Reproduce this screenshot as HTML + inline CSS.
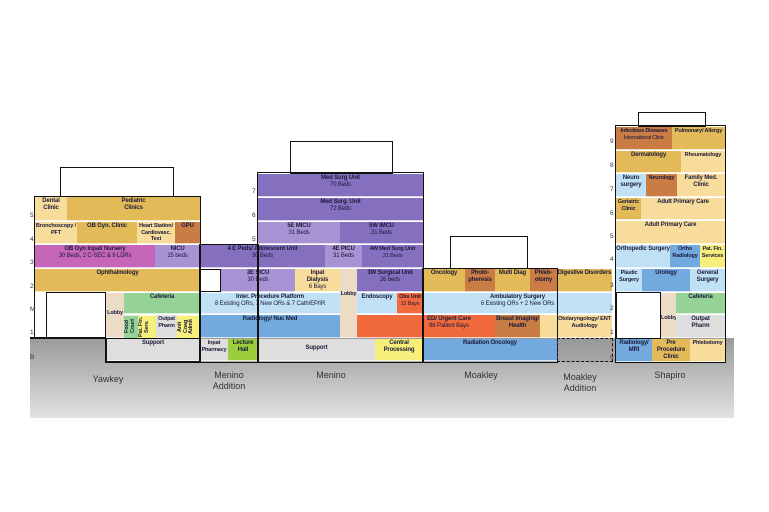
<!DOCTYPE html>
<html><head><meta charset="utf-8"><style>
body{margin:0;width:769px;height:512px;background:#fff;position:relative;overflow:hidden;font-family:"Liberation Sans",sans-serif}
.b{position:absolute;box-sizing:border-box;font-size:6px;line-height:7px;letter-spacing:-0.15px;text-align:center;color:#1a1a3a;font-weight:bold;padding-top:1px;overflow:hidden;border-bottom:1px solid rgba(255,255,255,.7)}
.b span{font-weight:normal;display:block}
.o{position:absolute;box-sizing:border-box;border:1.5px solid #111}
.n{position:absolute;font-size:6.5px;color:#333}
.l{position:absolute;font-size:9px;color:#333;text-align:center;width:80px;line-height:11px}
.go{background:#e2ba58}.ly{background:#f7dc9c}.br{background:#c97c44}.pk{background:#c566b8}
.pu{background:#8470bf}.lp{background:#a892d4}.lb{background:#bfe0f5}.bl{background:#72aadf}
.or{background:#f06a3c}.gr{background:#95d295}.lg{background:#dedede}.ye{background:#f6ef7c}
.be{background:#ecdcc6}.lh{background:#9ccd3c}
.v{writing-mode:vertical-rl;transform:rotate(180deg);padding:1px 0 0 0;font-size:5.5px;line-height:6px}
</style></head><body>
<div style="position:absolute;left:30px;top:338px;width:704px;height:80px;background:linear-gradient(#9a9a9a,#e2e2e2)"></div>

<div class="o" style="left:60px;top:167px;width:114px;height:31px;border-width:1px"></div>
<div class="o" style="left:290px;top:141px;width:103px;height:33px;border-width:1px"></div>
<div class="o" style="left:450px;top:236px;width:78px;height:33px;border-width:1px"></div>
<div class="o" style="left:638px;top:112px;width:68px;height:15px;border-width:1px"></div>

<!-- Yawkey -->
<div class="b ly" style="left:35px;top:197px;width:32px;height:24px">Dental Clinic</div>
<div class="b go" style="left:67px;top:197px;width:133px;height:24px">Pediatric<br>Clinics</div>
<div class="b ly" style="left:35px;top:222px;width:42px;height:22px;font-size:5.6px">Bronchoscopy / PFT</div>
<div class="b go" style="left:77px;top:222px;width:60px;height:22px">OB Gyn. Clinic</div>
<div class="b ly" style="left:137px;top:222px;width:38px;height:22px;font-size:5.5px;line-height:6.5px">Heart Station/ Cardiovasc. Test</div>
<div class="b br" style="left:175px;top:222px;width:25px;height:22px">GPU</div>
<div class="b pk" style="left:35px;top:245px;width:120px;height:23px">OB Gyn Inpat/ Nursery<span>30 Beds, 2 C-SEC &amp; 9 LDRs</span></div>
<div class="b lp" style="left:155px;top:245px;width:45px;height:23px">NICU<span>15 beds</span></div>
<div class="b go" style="left:35px;top:269px;width:165px;height:23px">Ophthalmology</div>
<div class="o" style="left:46px;top:292px;width:60px;height:47px;border-width:1px;background:#fff"></div>
<div class="b be" style="left:106px;top:293px;width:18px;height:45px;padding-top:17px;font-size:5.5px">Lobby</div>
<div class="b gr" style="left:124px;top:293px;width:76px;height:21px">Cafeteria</div>
<div class="b gr v" style="left:124px;top:315px;width:14px;height:23px">Food Court</div>
<div class="b ye v" style="left:138px;top:315px;width:18px;height:23px">Pat. Fin. Serv.</div>
<div class="b lg" style="left:156px;top:315px;width:21px;height:23px;font-size:5.5px">Outpat Pharm</div>
<div class="b ye v" style="left:177px;top:315px;width:11px;height:23px">Anti Coag</div>
<div class="b ye v" style="left:188px;top:315px;width:12px;height:23px">Admit</div>
<div class="b lg" style="left:106px;top:339px;width:94px;height:22px">Support</div>

<!-- Menino -->
<div class="b pu" style="left:258px;top:174px;width:165px;height:23px">Med Surg Unit<span>70 Beds</span></div>
<div class="b pu" style="left:258px;top:198px;width:165px;height:23px">Med Surg. Unit<span>72 Beds</span></div>
<div class="b lp" style="left:258px;top:222px;width:82px;height:22px">5E MICU<span>31 Beds</span></div>
<div class="b pu" style="left:340px;top:222px;width:83px;height:22px">5W IMCU<span>31 Beds</span></div>
<div class="b pu" style="left:200px;top:245px;width:125px;height:23px">4 E Peds/ Adolescent Unit<span>30 Beds</span></div>
<div class="b lp" style="left:325px;top:245px;width:37px;height:23px">4E PICU<span>31 Beds</span></div>
<div class="b pu" style="left:362px;top:245px;width:61px;height:23px;font-size:5.6px">4W Med Surg Unit<span>31 Beds</span></div>
<div class="o" style="left:200px;top:269px;width:21px;height:23px;border-width:1px"></div>
<div class="b lp" style="left:221px;top:269px;width:74px;height:23px">3E SICU<span>30 Beds</span></div>
<div class="b ly" style="left:295px;top:269px;width:45px;height:23px">Inpat<br>Dialysis<span>6 Bays</span></div>
<div class="b be" style="left:340px;top:269px;width:17px;height:69px;padding-top:22px;font-size:5.5px">Lobby</div>
<div class="b pu" style="left:357px;top:269px;width:66px;height:23px">3W Surgical Unit<span>26 beds</span></div>
<div class="b lb" style="left:200px;top:293px;width:140px;height:21px">Inter. Procedure Platform<span>8 Existing ORs, 7 New ORs &amp; 7 Cath/EP/IR</span></div>
<div class="b lb" style="left:357px;top:293px;width:40px;height:21px">Endoscopy</div>
<div class="b or" style="left:397px;top:293px;width:26px;height:21px;font-size:5.5px">Obs Unit<span>12 Bays</span></div>
<div class="b bl" style="left:200px;top:315px;width:140px;height:23px">Radiology/ Nuc Med</div>
<div class="b or" style="left:357px;top:315px;width:138px;height:23px;padding-left:46px">ED/ Urgent Care<span>88 Patient Bays</span></div>
<div class="b lg" style="left:200px;top:339px;width:28px;height:22px;font-size:5.5px">Inpat Pharmacy</div>
<div class="b lh" style="left:228px;top:339px;width:30px;height:22px">Lecture Hall</div>
<div class="b lg" style="left:258px;top:339px;width:117px;height:22px;padding-top:6px">Support</div>
<div class="b ye" style="left:375px;top:339px;width:48px;height:22px">Central Processing</div>

<!-- Moakley -->
<div class="b go" style="left:423px;top:269px;width:42px;height:23px">Oncology</div>
<div class="b br" style="left:465px;top:269px;width:30px;height:23px">Photo-<br>pheresis</div>
<div class="b go" style="left:495px;top:269px;width:35px;height:23px">Multi Diag</div>
<div class="b br" style="left:530px;top:269px;width:27px;height:23px">Phleb-<br>otomy</div>
<div class="b go" style="left:557px;top:269px;width:55px;height:23px">Digestive Disorders</div>
<div class="b lb" style="left:423px;top:293px;width:189px;height:21px">Ambulatory Surgery<span>6 Existing ORs + 2 New ORs</span></div>
<div class="b br" style="left:495px;top:315px;width:45px;height:23px">Breast Imaging/ Health</div>
<div class="b ly" style="left:540px;top:315px;width:17px;height:23px"></div>
<div class="b ly" style="left:557px;top:315px;width:55px;height:23px;font-size:5.6px">Otolaryngology/ ENT Audiology</div>
<div class="b bl" style="left:423px;top:339px;width:134px;height:22px">Radiation Oncology</div>

<!-- Shapiro -->
<div class="b br" style="left:616px;top:127px;width:56px;height:23px;font-size:5.5px;line-height:6.5px;letter-spacing:-0.25px">Infectious Diseases<span>International Clinic</span></div>
<div class="b go" style="left:672px;top:127px;width:53px;height:23px;font-size:5.5px">Pulmonary/ Allergy</div>
<div class="b go" style="left:616px;top:151px;width:65px;height:22px">Dermatology</div>
<div class="b ly" style="left:681px;top:151px;width:44px;height:22px;font-size:5.5px">Rheumatology</div>
<div class="b lb" style="left:616px;top:174px;width:30px;height:23px">Neuro surgery</div>
<div class="b br" style="left:646px;top:174px;width:31px;height:23px;font-size:5.5px">Neurology</div>
<div class="b ly" style="left:677px;top:174px;width:48px;height:23px">Family Med. Clinic</div>
<div class="b go" style="left:616px;top:198px;width:25px;height:22px;font-size:5.5px">Geriatric Clinic</div>
<div class="b ly" style="left:641px;top:198px;width:84px;height:22px">Adult Primary Care</div>
<div class="b ly" style="left:616px;top:221px;width:109px;height:23px">Adult Primary Care</div>
<div class="b lb" style="left:616px;top:245px;width:54px;height:23px">Orthopedic Surgery</div>
<div class="b bl" style="left:670px;top:245px;width:30px;height:23px;font-size:5.5px">Ortho Radiology</div>
<div class="b ye" style="left:700px;top:245px;width:25px;height:23px;font-size:5.5px">Pat. Fin. Services</div>
<div class="b lb" style="left:616px;top:269px;width:26px;height:23px;font-size:5.5px">Plastic Surgery</div>
<div class="b bl" style="left:642px;top:269px;width:48px;height:23px">Urology</div>
<div class="b lb" style="left:690px;top:269px;width:35px;height:23px">General Surgery</div>
<div class="o" style="left:616px;top:292px;width:45px;height:47px;border-width:1px;background:#fff"></div>
<div class="b be" style="left:661px;top:293px;width:15px;height:45px;padding-top:22px;font-size:5.5px">Lobby</div>
<div class="b gr" style="left:676px;top:293px;width:49px;height:21px">Cafeteria</div>
<div class="b lg" style="left:676px;top:315px;width:49px;height:23px">Outpat<br>Pharm</div>
<div class="b bl" style="left:616px;top:339px;width:36px;height:23px">Radiology/ MRI</div>
<div class="b go" style="left:652px;top:339px;width:38px;height:23px">Pre Procedure Clinic</div>
<div class="b ly" style="left:690px;top:339px;width:35px;height:23px;font-size:5.5px">Phlebotomy</div>

<!-- outlines -->
<div class="o" style="left:34px;top:196px;width:167px;height:143px;border-width:1px"></div>
<div class="o" style="left:105px;top:338px;width:96px;height:25px;border-width:2px;border-top:none"></div>
<div class="o" style="left:257px;top:172px;width:167px;height:191px;border-width:1.5px"></div>
<div class="o" style="left:199px;top:244px;width:60px;height:119px;border-width:1.5px"></div>
<div class="o" style="left:422px;top:268px;width:136px;height:95px;border-width:1.5px"></div>
<div class="o" style="left:557px;top:338px;width:56px;height:24px;border-width:1px;border-style:dashed;background:rgba(150,150,150,.3)"></div>
<div class="o" style="left:615px;top:125px;width:111px;height:238px;border-width:1.5px"></div>
<div style="position:absolute;left:30px;top:337px;width:76px;border-top:2px solid #111"></div>

<!-- floor numbers -->
<div class="n" style="left:30px;top:212px">5</div><div class="n" style="left:30px;top:236px">4</div>
<div class="n" style="left:30px;top:259px">3</div><div class="n" style="left:30px;top:283px">2</div>
<div class="n" style="left:30px;top:306px">M</div><div class="n" style="left:30px;top:329px">1</div>
<div class="n" style="left:30px;top:354px">B</div>
<div class="n" style="left:252px;top:188px">7</div><div class="n" style="left:252px;top:212px">6</div><div class="n" style="left:252px;top:236px">5</div>
<div class="n" style="left:610px;top:138px">9</div><div class="n" style="left:610px;top:162px">8</div><div class="n" style="left:610px;top:186px">7</div>
<div class="n" style="left:610px;top:210px">6</div><div class="n" style="left:610px;top:233px">5</div><div class="n" style="left:610px;top:256px">4</div>
<div class="n" style="left:610px;top:282px">3</div><div class="n" style="left:610px;top:305px">2</div><div class="n" style="left:610px;top:329px">1</div>
<div class="n" style="left:610px;top:354px">0</div>

<!-- labels -->
<div class="l" style="left:68px;top:374px">Yawkey</div>
<div class="l" style="left:189px;top:370px">Menino<br>Addition</div>
<div class="l" style="left:291px;top:370px">Menino</div>
<div class="l" style="left:441px;top:370px">Moakley</div>
<div class="l" style="left:540px;top:372px">Moakley<br>Addition</div>
<div class="l" style="left:630px;top:370px">Shapiro</div>
</body></html>
